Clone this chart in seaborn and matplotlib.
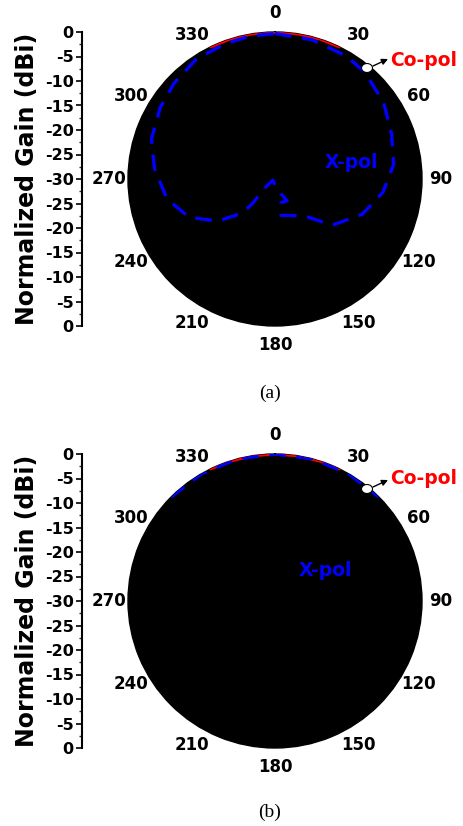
import numpy as np
import matplotlib
matplotlib.use("Agg")
import matplotlib.pyplot as plt
import seaborn as sns
from matplotlib.patches import Ellipse

# ---------------- data ----------------
angle_ticks = [0, 30, 60, 90, 120, 150, 180, 210, 240, 270, 300, 330]
gain_tick_pos = [0, 5, 10, 15, 20, 25, 30, 35, 40, 45, 50, 55, 60]
gain_tick_labels = ["0", "-5", "-10", "-15", "-20", "-25", "-30",
                    "-25", "-20", "-15", "-10", "-5", "0"]

# (a) co-pol (visible only at the top of the disk)
copol_a_deg = [-26, -18, -9, 0, 9, 18, 26]
copol_a_db = [0, 0, 0, 0, 0, 0, 0]

# (a) cross-pol, in path order
xpol_a_deg = [0, 15, 30, 40, 55, 69, 83, 97, 112, 129, 141, 170.5, 166, 151,
              169, 243, 227.5, 222.5, 224, 233.6, 246, 259.5, 275, 288, 302,
              313.5, 327, 340, 350, 360]
xpol_a_db = [-0.3, -0.6, -1.0, -1.5, -2.9, -4.5, -5.6, -7.8, -10.8, -15.0,
             -20.3, -22.5, -25.0, -24.9, -27.9, -29.5, -26.7, -23.3, -20.3,
             -15.5, -10.8, -7.6, -5.3, -3.5, -2.4, -1.6, -0.7, -0.6, -0.4, -0.3]

# (b)
copol_b_deg = [-26, -18, -9, 0, 9, 18, 26]
copol_b_db = [0, 0, 0, 0, 0, 0, 0]
xpol_b_deg = [-45, -30, -15, 0, 15, 30, 45]
xpol_b_db = [0, 0, 0, 0, 0, 0, 0]

panel_labels = ["(a)", "(b)"]

# ---------------- style ----------------
sns.set_theme(style="white")
plt.rcParams["font.family"] = ["DejaVu Sans"]

W, H = 463, 826
fig = plt.figure(figsize=(W / 100, H / 100), dpi=100)
fig.patch.set_facecolor("white")


def fx(x):
    return x / W


def fy(y):
    return 1 - y / H


R = 147
panels = [
    dict(cy=179, copol=(copol_a_deg, copol_a_db), xpol=(xpol_a_deg, xpol_a_db),
         xlab=(351, 163), ell=(367, 68), tail=(373, 66), head=(388, 59),
         cotext=(390, 60), cap=393),
    dict(cy=601, copol=(copol_b_deg, copol_b_db), xpol=(xpol_b_deg, xpol_b_db),
         xlab=(325, 570), ell=(367, 489), tail=(373, 487), head=(388, 480),
         cotext=(390, 479), cap=812),
]

for p, cap in zip(panels, panel_labels):
    cy = p["cy"]
    top, bot = cy - R, cy + R
    ax = fig.add_axes([fx(275 - R), fy(bot), 2 * R / W, 2 * R / H],
                      projection="polar")
    ax.set_theta_zero_location("N")
    ax.set_theta_direction(-1)
    ax.set_ylim(-30, 0)
    ax.set_facecolor("black")
    ax.grid(False)
    ax.set_xticks([])
    ax.set_yticks([])
    ax.spines["polar"].set_color("black")
    ax.spines["polar"].set_linewidth(1.0)

    cd, cv = p["copol"]
    sns.lineplot(x=np.deg2rad(cd), y=cv, ax=ax, sort=False, estimator=None,
                 color="red", linewidth=2.2, zorder=3)
    xd, xv = p["xpol"]
    sns.lineplot(x=np.deg2rad(xd), y=xv, ax=ax, sort=False, estimator=None,
                 color="#0000ff", linewidth=2.4, linestyle=(0, (5, 3.2)),
                 zorder=4)

    for a in angle_ticks:
        ax.text(np.deg2rad(a), 3.9, str(a), ha="center", va="center",
                fontsize=12, fontweight="bold", color="black", clip_on=False)

    # left radial scale
    lax = fig.add_axes([fx(82), fy(bot), 0.002, 2 * R / H])
    lax.set_facecolor("none")
    for s in ["top", "right", "bottom"]:
        lax.spines[s].set_visible(False)
    lax.spines["left"].set_color("black")
    lax.spines["left"].set_linewidth(1.5)
    lax.set_ylim(0, 60)
    lax.set_xticks([])
    lax.set_yticks(gain_tick_pos)
    lax.set_yticklabels(gain_tick_labels[::-1])
    lax.set_yticks(np.arange(2.5, 60, 5), minor=True)
    lax.tick_params(axis="y", which="major", direction="out", length=4,
                    width=1.2, pad=2, labelsize=11.5, colors="black",
                    left=True)
    lax.tick_params(axis="y", which="minor", direction="out", length=2,
                    width=1.0, left=True)
    for t in lax.get_yticklabels():
        t.set_fontweight("bold")

    fig.text(fx(27), fy(cy), "Normalized Gain (dBi)", rotation=90,
             ha="center", va="center", fontsize=17, fontweight="bold",
             color="black")

    fig.text(fx(p["xlab"][0]), fy(p["xlab"][1]), "X-pol", color="#0000ff",
             ha="center", va="center", fontsize=13.5, fontweight="bold")

    e = Ellipse((fx(p["ell"][0]), fy(p["ell"][1])), width=11 / W,
                height=9 / H, transform=fig.transFigure, facecolor="white",
                edgecolor="black", linewidth=0.8, zorder=5)
    fig.add_artist(e)
    ax.annotate("", xy=(fx(p["head"][0]), fy(p["head"][1])),
                xytext=(fx(p["tail"][0]), fy(p["tail"][1])),
                xycoords="figure fraction", textcoords="figure fraction",
                arrowprops=dict(arrowstyle="-|>", color="black", lw=1.0,
                                shrinkA=0, shrinkB=0, mutation_scale=9),
                annotation_clip=False, zorder=6)
    fig.text(fx(p["cotext"][0]), fy(p["cotext"][1]), "Co-pol", color="red",
             ha="left", va="center", fontsize=13.5, fontweight="bold")

    fig.text(fx(270), fy(p["cap"]), cap, ha="center", va="center",
             fontsize=14, family=["Liberation Serif", "DejaVu Serif"],
             color="black")

fig.savefig("out.png", dpi=100, facecolor="white")
